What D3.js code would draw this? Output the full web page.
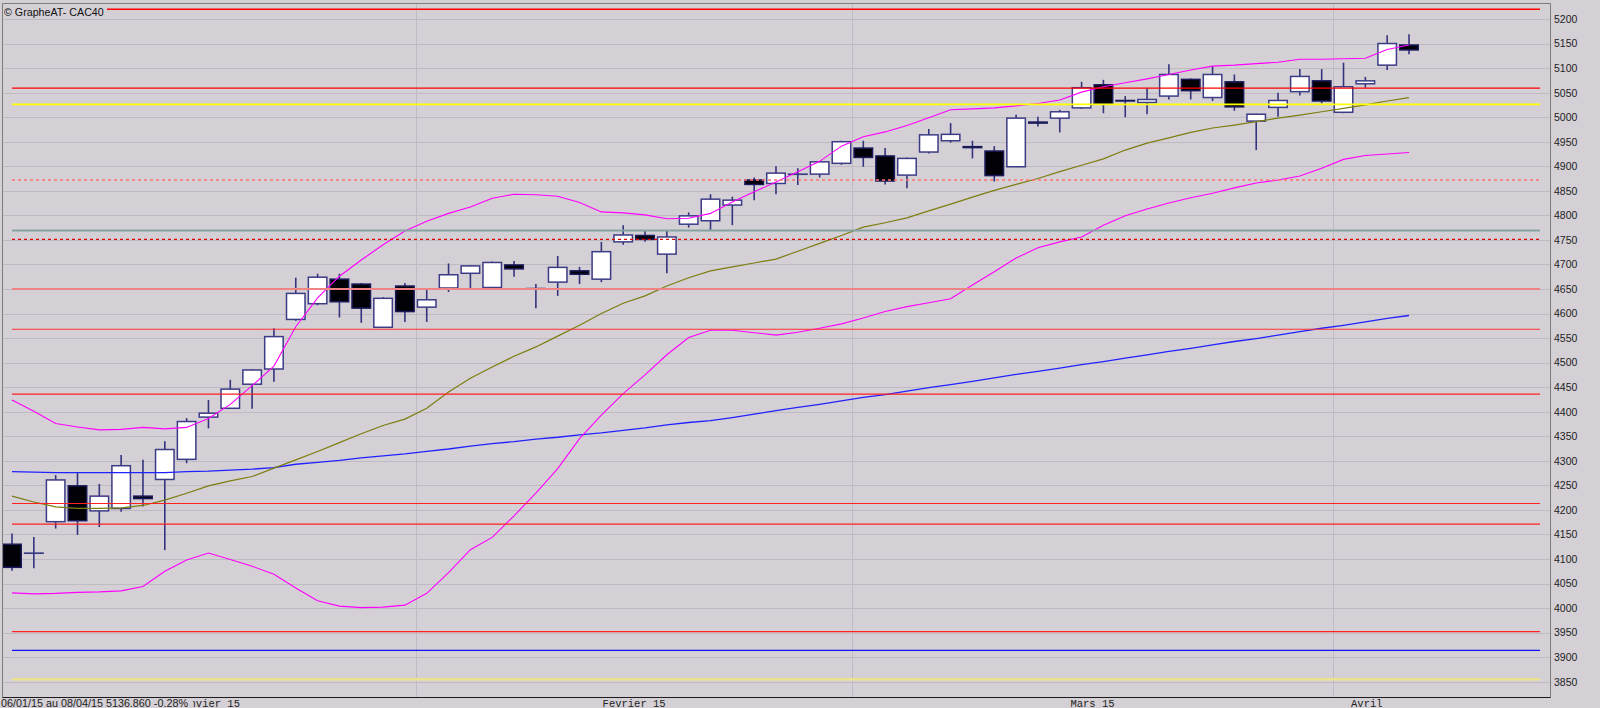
<!DOCTYPE html>
<html><head><meta charset="utf-8">
<script src="https://cdn.jsdelivr.net/npm/d3@7"></script>
<style>html,body{margin:0;padding:0;background:#d4d0d5;overflow:hidden}</style>
</head><body><svg id="c" width="1600" height="708"></svg>
<script>
// ---------- DATA ----------
const dates = [
 "2015-01-06","2015-01-07","2015-01-08","2015-01-09","2015-01-12","2015-01-13","2015-01-14","2015-01-15","2015-01-16",
 "2015-01-19","2015-01-20","2015-01-21","2015-01-22","2015-01-23","2015-01-26","2015-01-27","2015-01-28","2015-01-29","2015-01-30",
 "2015-02-02","2015-02-03","2015-02-04","2015-02-05","2015-02-06","2015-02-09","2015-02-10","2015-02-11","2015-02-12","2015-02-13",
 "2015-02-16","2015-02-17","2015-02-18","2015-02-19","2015-02-20","2015-02-23","2015-02-24","2015-02-25","2015-02-26","2015-02-27",
 "2015-03-02","2015-03-03","2015-03-04","2015-03-05","2015-03-06","2015-03-09","2015-03-10","2015-03-11","2015-03-12","2015-03-13",
 "2015-03-16","2015-03-17","2015-03-18","2015-03-19","2015-03-20","2015-03-23","2015-03-24","2015-03-25","2015-03-26","2015-03-27",
 "2015-03-30","2015-03-31","2015-04-01","2015-04-02","2015-04-07","2015-04-08"];
const open  = [4130,4112,4176,4249,4198,4203,4228,4262,4303,4389,4407,4456,4487,4588,4620,4670,4660,4572,4656,
 4613,4652,4682,4653,4699,4651,4664,4687,4670,4746,4759,4721,4782,4789,4821,4872,4865,4884,4884,4906,
 4937,4921,4882,4929,4952,4940,4931,4899,4990,4998,5019,5066,5034,5030,5043,5077,5040,5072,4992,5020,5052,5074,
 5010,5068,5106,5147];
const high  = [4152,4145,4271,4275,4253,4312,4302,4340,4387,4424,4465,4487,4570,4673,4681,4681,4662,4633,4662,
 4648,4702,4699,4706,4707,4660,4717,4695,4746,4780,4768,4768,4806,4843,4838,4877,4900,4896,4910,4952,
 4952,4937,4918,4976,4988,4952,4941,5005,5001,5015,5072,5076,5043,5059,5108,5079,5104,5087,5007,5050,5098,5098,
 5111,5082,5167,5169];
const low   = [4076,4081,4162,4149,4165,4196,4207,4118,4295,4366,4406,4406,4461,4585,4617,4592,4581,4571,4583,
 4583,4644,4651,4649,4675,4611,4636,4660,4664,4740,4746,4682,4775,4768,4780,4831,4843,4862,4877,4903,
 4899,4863,4855,4926,4948,4916,4869,4898,4981,4969,5017,5008,5000,5006,5036,5036,5033,5013,4933,5001,5044,5028,
 5008,5060,5096,5128];
const close = [4083,4112,4261,4178,4228,4290,4223,4323,4380,4397,4446,4485,4553,4641,4674,4624,4611,4631,4604,
 4628,4679,4697,4704,4691,4651,4694,4680,4726,4760,4751,4756,4799,4833,4831,4863,4886,4884,4909,4950,
 4918,4870,4916,4964,4965,4938,4881,4998,4988,5011,5060,5027,5033,5036,5087,5054,5087,5021,5006,5034,5083,5033,
 5062,5074,5150,5137];
const bbUpper = [4424,4401,4376,4369,4363,4364,4368,4365,4368,4386,4415,4453,4493,4573,4632,4676,4709,4740,4768,
 4788,4804,4817,4835,4843,4842,4839,4826,4807,4805,4801,4793,4794,4804,4827,4848,4868,4889,4910,4941,
 4960,4970,4983,4999,5015,5017,5019,5023,5028,5035,5051,5062,5070,5078,5087,5096,5104,5106,5109,5112,5118,5118,
 5119,5120,5138,5147];
const bbLower = [4031,4029,4030,4032,4033,4035,4044,4075,4098,4112,4099,4085,4069,4041,4015,4004,4001,4002,4006,
 4030,4072,4119,4144,4188,4234,4284,4345,4393,4437,4475,4516,4551,4566,4566,4561,4556,4562,4570,4579,
 4591,4604,4614,4622,4630,4658,4685,4713,4734,4746,4756,4780,4799,4813,4825,4836,4845,4856,4866,4872,4880,4896,
 4914,4922,4925,4928];
const ma20 = [4228,4216,4206,4203,4203,4204,4209,4220,4234,4249,4259,4268,4285,4302,4319,4337,4355,4372,4385,
 4407,4440,4468,4491,4513,4532,4554,4576,4600,4621,4636,4656,4673,4687,4695,4703,4711,4727,4743,4759,
 4776,4785,4795,4809,4823,4837,4851,4863,4875,4889,4902,4915,4933,4947,4958,4969,4978,4984,4991,4998,5004,5011,
 5018,5025,5033,5040];
const ma100 = [4278,4277,4276,4276,4276,4276,4276,4276,4278,4279,4281,4283,4286,4293,4297,4301,4306,4310,4314,
 4319,4324,4330,4335,4339,4344,4348,4353,4357,4362,4367,4373,4378,4382,4388,4395,4402,4409,4415,4422,
 4429,4435,4442,4449,4455,4462,4469,4476,4482,4489,4496,4502,4509,4516,4523,4529,4536,4543,4549,4556,4563,4570,
 4576,4583,4590,4596];
const levels = [5220,5059,5026,4872,4769,4751,4650,4568,4436,4213,4171,3952,3914,3855];
const yTicks = [3850,3900,3950,4000,4050,4100,4150,4200,4250,4300,4350,4400,4450,4500,4550,4600,4650,4700,
 4750,4800,4850,4900,4950,5000,5050,5100,5150,5200];
const monthLabels = ["Janvier 15","Fevrier 15","Mars 15","Avril 15"];
const titleText = "\u00A9 GrapheAT- CAC40";
const infoText = "06/01/15 au 08/04/15 5136.860 -0.28%";

// ---------- STYLE / LAYOUT ----------
const BG = "#d4d0d5", GRID = "#bebbc3";
const frame = {l:2.5, t:3.5, r:1550.5, b:697.5};
const levelStyles = [
 {c:"#ff0000",w:1.6},{c:"#ff0000",w:1.2},{c:"#ffff00",w:1.6},{c:"#ff7070",w:1.5,d:"3,3"},
 {c:"#84a4a4",w:2},{c:"#e00000",w:1.4,d:"3,3"},{c:"#f08484",w:2.2},{c:"#ff3030",w:1.2},
 {c:"#ff2020",w:1.2},{c:"#ff2020",w:1.2},{c:"#ff2020",w:1.2},{c:"#ff2020",w:1.2},
 {c:"#1010f0",w:1.3},{c:"#ece290",w:2.4}];

const svg = d3.select("#c");
svg.append("rect").attr("width",1600).attr("height",708).attr("fill",BG);

const x = d3.scalePoint().domain(dates).range([12, 1409]);
const step = x.step();
const y = d3.scaleLinear().domain([3850, 5200]).range([681.7, 19]);

// horizontal grid
svg.append("g").selectAll("line").data(yTicks).join("line")
  .attr("x1", frame.l).attr("x2", frame.r)
  .attr("y1", d => Math.round(y(d))+0.5).attr("y2", d => Math.round(y(d))+0.5)
  .attr("stroke", GRID).attr("stroke-width", 1);

// month groups
const months = [];
dates.forEach((d,i) => {
  const m = d.slice(0,7);
  if (!months.length || months[months.length-1].m !== m) months.push({m, start:i, end:i});
  else months[months.length-1].end = i;
});
months.forEach(mo => {
  mo.x0 = x(dates[mo.start]) - step/2;
  mo.x1 = x(dates[mo.end]) + step/2;
});
svg.append("g").selectAll("line").data(months.slice(1)).join("line")
  .attr("x1", d => Math.round(d.x0)+0.5).attr("x2", d => Math.round(d.x0)+0.5)
  .attr("y1", frame.t).attr("y2", frame.b)
  .attr("stroke", GRID).attr("stroke-width", 1);

// candles
const idx = d3.range(dates.length);
const cg = svg.append("g");
cg.selectAll("line").data(idx).join("line")
  .attr("x1", i => x(dates[i])).attr("x2", i => x(dates[i]))
  .attr("y1", i => y(high[i])).attr("y2", i => y(low[i]))
  .attr("stroke", "#34347e").attr("stroke-width", 1.6);
const bw = 18.5;
cg.selectAll("rect").data(idx).join("rect")
  .attr("x", i => x(dates[i]) - bw/2).attr("width", bw)
  .attr("y", i => y(Math.max(open[i], close[i])))
  .attr("height", i => Math.max(0.2, Math.abs(y(open[i]) - y(close[i]))))
  .attr("fill", i => close[i] < open[i] ? "#000006" : "#ffffff")
  .attr("stroke", i => close[i] < open[i] ? "#1a1a5a" : "#3c3c86").attr("stroke-width", 1.5);

// indicator lines
const line = d3.line().x((d,i) => x(dates[i])).y(d => y(d));
const ind = [
  {v: ma100, c:"#2222ff", w:1.3},
  {v: ma20, c:"#7d7d10", w:1.2},
  {v: bbUpper, c:"#ff00ff", w:1.1},
  {v: bbLower, c:"#ff00ff", w:1.1}];
svg.append("g").selectAll("path").data(ind).join("path")
  .attr("d", d => line(d.v)).attr("fill","none")
  .attr("stroke", d => d.c).attr("stroke-width", d => d.w);

// level lines
svg.append("g").selectAll("line").data(levels).join("line")
  .attr("x1", 12).attr("x2", 1540)
  .attr("y1", d => y(d)).attr("y2", d => y(d))
  .attr("stroke", (d,i) => levelStyles[i].c)
  .attr("stroke-width", (d,i) => levelStyles[i].w)
  .attr("stroke-dasharray", (d,i) => levelStyles[i].d || null);

// frame
const fr = svg.append("g").attr("fill","none");
fr.append("line").attr("x1",frame.l).attr("x2",frame.r).attr("y1",frame.t).attr("y2",frame.t).attr("stroke","#7c7c7c");
fr.append("line").attr("x1",frame.l).attr("x2",frame.l).attr("y1",frame.t).attr("y2",frame.b).attr("stroke","#7c7c7c");
fr.append("line").attr("x1",frame.r).attr("x2",frame.r).attr("y1",frame.t).attr("y2",frame.b).attr("stroke","#7c7c7c");
fr.append("line").attr("x1",frame.l).attr("x2",frame.r).attr("y1",frame.b).attr("y2",frame.b).attr("stroke","#1c1c1c");

// title
svg.append("rect").attr("x",3).attr("y",4).attr("width",104).attr("height",13).attr("fill",BG);
svg.append("text").attr("x",4).attr("y",15.5).text(titleText)
  .attr("font-family","'Liberation Sans', Arial, sans-serif").attr("font-size","10.7px").attr("fill","#111");

// y axis
const ax = svg.append("g").attr("transform","translate(1551,0)")
  .call(d3.axisRight(y).tickValues(yTicks).tickSize(0).tickPadding(3).tickFormat(d3.format("d")));
ax.select(".domain").remove();
ax.selectAll("text").attr("font-family","'Liberation Sans', Arial, sans-serif")
  .attr("font-size","10.5px").attr("fill","#1e1e1e");

// bottom labels
const defs = svg.append("defs");
defs.append("clipPath").attr("id","bclip").append("rect").attr("x",0).attr("y",690).attr("width",1386).attr("height",18);
const bl = svg.append("g").attr("clip-path","url(#bclip)");
bl.selectAll("text").data(months).join("text")
  .attr("x", d => (d.x0 + d.x1)/2).attr("y", 706.5).attr("text-anchor","middle")
  .text((d,i) => monthLabels[i])
  .attr("font-family","'Liberation Mono','Courier New',monospace").attr("font-size","10.5px").attr("fill","#222");
svg.append("rect").attr("x",0).attr("y",698.5).attr("width",193).attr("height",10).attr("fill",BG);
svg.append("text").attr("x",1).attr("y",706.5).text(infoText)
  .attr("textLength",187).attr("lengthAdjust","spacingAndGlyphs")
  .attr("font-family","'Liberation Sans Narrow','Arial Narrow','Liberation Sans',sans-serif")
  .attr("font-size","10.5px").attr("fill","#222");
</script></body></html>
